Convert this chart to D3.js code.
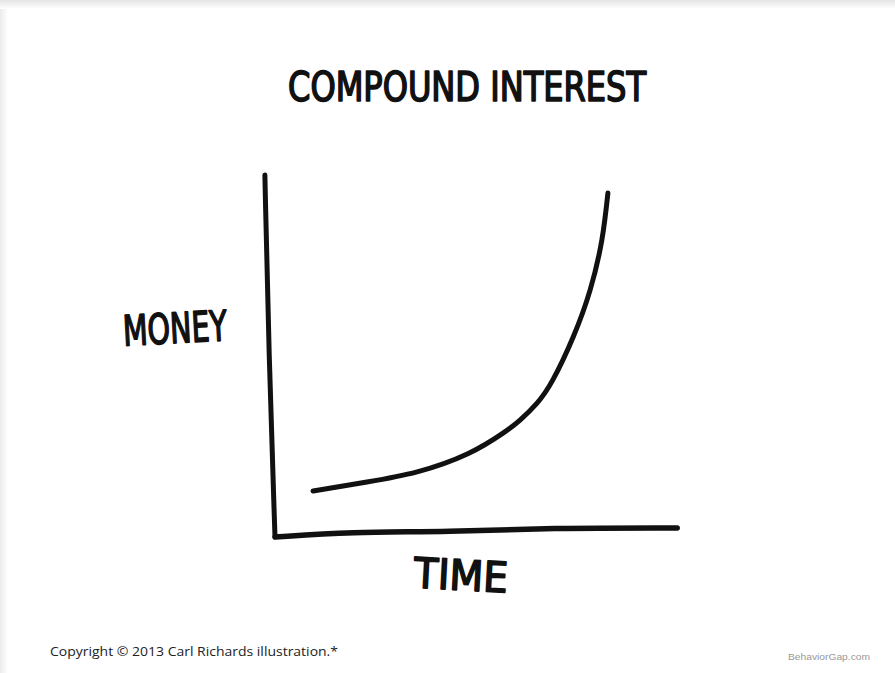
<!DOCTYPE html>
<html>
<head>
  <title>Compound Interest</title>
  <meta charset="utf-8">
  <script src="https://cdnjs.cloudflare.com/ajax/libs/d3/7.8.5/d3.min.js"></script>
<style>
body {
  margin: 0;
  background: #fff;
}

.sketch {
  fill: none;
  stroke: #111;
  stroke-linecap: round;
  stroke-linejoin: round;
}

.hand {
  font-family: "DejaVu Sans Condensed", "DejaVu Sans", sans-serif;
  font-weight: normal;
  fill: #111;
  stroke: #111;
  stroke-width: 1.6;
  stroke-linejoin: round;
}
</style>
</head>
<body>
<svg width="895" height="673"></svg>
<script>

// curve: time (0-100) vs money (0-100)
var timeVals  = [9.4, 22.7, 35.1, 47.6, 56.3, 60.5, 64.7, 68.6, 73.6, 77.8, 80.7, 82.2];
var moneyVals = [12.7, 15.2, 18.0, 23.0, 28.7, 32.3, 37.0, 43.4, 55.2, 68.2, 82.0, 95.0];

// hand drawn axes, slightly wobbly
var yAxisTime  = [-2.5, -1.5, 0];
var yAxisMoney = [100, 50, 0];
var xAxisTime  = [0, 18.5, 43, 68, 99.3];
var xAxisMoney = [0, 1.4, 1.4, 2.5, 2.5];

var titleText = "COMPOUND INTEREST",
    yLabel = "MONEY",
    xLabel = "TIME",
    creditText = "Copyright \u00a9 2013 Carl Richards illustration.*",
    siteText = "BehaviorGap.com";

var svg = d3.select("svg"),
    width = +svg.attr("width"),
    height = +svg.attr("height");

var x = d3.scaleLinear().domain([0, 100]).range([275, 680]);
var y = d3.scaleLinear().domain([0, 100]).range([537, 175]);

// faint shadow along top and left edge
var defs = svg.append("defs");
var gTop = defs.append("linearGradient").attr("id", "shTop")
    .attr("x1", 0).attr("y1", 0).attr("x2", 0).attr("y2", 1);
gTop.append("stop").attr("offset", "0%").attr("stop-color", "#e4e4e4");
gTop.append("stop").attr("offset", "100%").attr("stop-color", "#fff");
var gLeft = defs.append("linearGradient").attr("id", "shLeft")
    .attr("x1", 0).attr("y1", 0).attr("x2", 1).attr("y2", 0);
gLeft.append("stop").attr("offset", "0%").attr("stop-color", "#ebebeb");
gLeft.append("stop").attr("offset", "100%").attr("stop-color", "#fff");

svg.append("rect").attr("width", width).attr("height", 9).attr("fill", "url(#shTop)");
svg.append("rect").attr("y", 9).attr("width", 8).attr("height", height - 9).attr("fill", "url(#shLeft)");

var line = d3.line()
    .x(function(d) { return x(d[0]); })
    .y(function(d) { return y(d[1]); })
    .curve(d3.curveNatural);

var axisLine = d3.line()
    .x(function(d) { return x(d[0]); })
    .y(function(d) { return y(d[1]); })
    .curve(d3.curveBasis);

svg.append("path")
    .attr("class", "sketch")
    .attr("stroke-width", 5)
    .attr("d", axisLine(d3.zip(yAxisTime, yAxisMoney)));

svg.append("path")
    .attr("class", "sketch")
    .attr("stroke-width", 5.5)
    .attr("d", axisLine(d3.zip(xAxisTime, xAxisMoney)));

svg.append("path")
    .attr("class", "sketch")
    .attr("stroke-width", 5)
    .attr("d", line(d3.zip(timeVals, moneyVals)));

// hand lettered labels
svg.append("text")
    .attr("class", "hand")
    .attr("x", 288).attr("y", 101)
    .attr("font-size", 40)
    .attr("textLength", 358)
    .attr("lengthAdjust", "spacingAndGlyphs")
    .text(titleText);

svg.append("text")
    .attr("class", "hand")
    .attr("x", 123).attr("y", 343)
    .attr("font-size", 42)
    .attr("textLength", 104)
    .attr("lengthAdjust", "spacingAndGlyphs")
    .attr("transform", "rotate(-3,175,330)")
    .text(yLabel);

svg.append("text")
    .attr("class", "hand")
    .attr("x", 414).attr("y", 590)
    .attr("font-size", 42)
    .attr("textLength", 94)
    .attr("lengthAdjust", "spacingAndGlyphs")
    .attr("transform", "rotate(3,460,575)")
    .text(xLabel);

// footer
svg.append("text")
    .attr("x", 50).attr("y", 656)
    .attr("font-family", "'Open Sans', sans-serif")
    .attr("font-size", 12.5)
    .attr("fill", "#222")
    .attr("textLength", 288)
    .attr("lengthAdjust", "spacingAndGlyphs")
    .text(creditText);

svg.append("text")
    .attr("x", 788).attr("y", 660)
    .attr("font-family", "'Liberation Sans Narrow', 'Liberation Sans', sans-serif")
    .attr("font-size", 9)
    .attr("fill", "#999")
    .attr("textLength", 82)
    .attr("lengthAdjust", "spacingAndGlyphs")
    .text(siteText);

</script>
</body>
</html>
